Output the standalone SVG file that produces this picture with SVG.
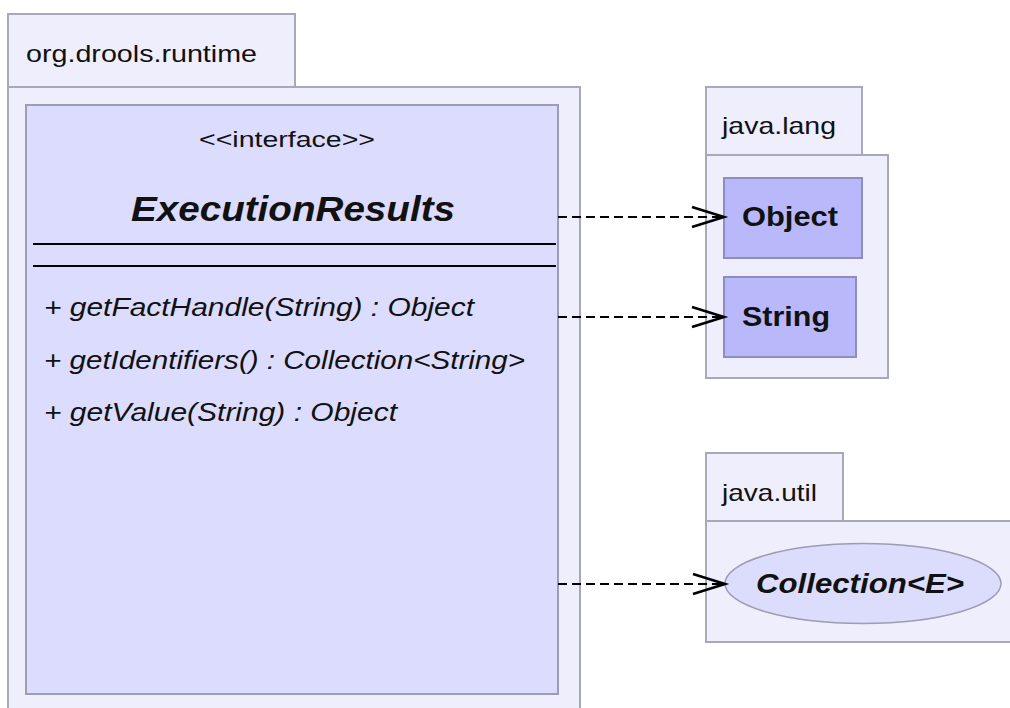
<svg xmlns="http://www.w3.org/2000/svg" width="1010" height="708" viewBox="0 0 1010 708">
<style>
.pkg{fill:#eeeefc;stroke:#a8a8b8;stroke-width:2}
.iface{fill:#dcdcfe;stroke:#9c9cb4;stroke-width:2}
.cls{fill:#b8b8fa;stroke:#8e8ebe;stroke-width:2}
.ell{fill:#dcdcfc;stroke:#9c9cb4;stroke-width:1.5}
.t{font-family:"Liberation Sans",Arial,sans-serif;fill:#111}
.plbl{font-size:24px}
.meth{font-size:25px;font-style:italic}
.dep{fill:none;stroke:#000;stroke-width:2.2;stroke-dasharray:9,5}
.head{fill:none;stroke:#000;stroke-width:2.6}
</style>
<rect width="1010" height="708" fill="#ffffff"/>
<g id="pkg-org-drools-runtime">
<rect class="pkg" x="8" y="14" width="287" height="73"/>
<rect class="pkg" x="8" y="87" width="572" height="640"/>
<text class="t plbl" x="26" y="62" textLength="231" lengthAdjust="spacingAndGlyphs">org.drools.runtime</text>
</g>
<g id="ExecutionResults">
<rect class="iface" x="26" y="105" width="532" height="589"/>
<text class="t" x="199" y="147" font-size="22" textLength="176" lengthAdjust="spacingAndGlyphs">&lt;&lt;interface&gt;&gt;</text>
<text class="t" x="131" y="221" font-size="35" font-weight="bold" font-style="italic" textLength="324" lengthAdjust="spacingAndGlyphs">ExecutionResults</text>
<line x1="33" y1="244" x2="556" y2="244" stroke="#000" stroke-width="2"/>
<line x1="33" y1="266" x2="556" y2="266" stroke="#000" stroke-width="2"/>
<text class="t meth" x="44" y="316" textLength="430" lengthAdjust="spacingAndGlyphs">+ getFactHandle(String) : Object</text>
<text class="t meth" x="44" y="369" textLength="481" lengthAdjust="spacingAndGlyphs">+ getIdentifiers() : Collection&lt;String&gt;</text>
<text class="t meth" x="44" y="421" textLength="353" lengthAdjust="spacingAndGlyphs">+ getValue(String) : Object</text>
</g>
<g id="pkg-java-lang">
<rect class="pkg" x="706" y="87" width="156" height="68"/>
<rect class="pkg" x="706" y="155" width="182" height="223"/>
<text class="t plbl" x="722" y="134" textLength="114" lengthAdjust="spacingAndGlyphs">java.lang</text>
</g>
<g id="Object">
<rect class="cls" x="724" y="178" width="138" height="80"/>
<text class="t" x="742" y="226" font-size="28" font-weight="bold" textLength="96" lengthAdjust="spacingAndGlyphs">Object</text>
</g>
<g id="String">
<rect class="cls" x="724" y="277" width="132" height="80"/>
<text class="t" x="742" y="326" font-size="28" font-weight="bold" textLength="88" lengthAdjust="spacingAndGlyphs">String</text>
</g>
<g id="pkg-java-util">
<rect class="pkg" x="706" y="453" width="137" height="68"/>
<rect class="pkg" x="706" y="521" width="320" height="121"/>
<text class="t plbl" x="722" y="501" textLength="95" lengthAdjust="spacingAndGlyphs">java.util</text>
</g>
<g id="Collection">
<ellipse class="ell" cx="863" cy="583.5" rx="138" ry="40"/>
<text class="t" x="756" y="593" font-size="28" font-weight="bold" font-style="italic" textLength="208" lengthAdjust="spacingAndGlyphs">Collection&lt;E&gt;</text>
</g>
<g id="connectors">
<line class="dep" x1="558" y1="217" x2="722" y2="217"/>
<polyline class="head" points="692,207 724,217 692,227"/>
<line class="dep" x1="558" y1="317" x2="722" y2="317"/>
<polyline class="head" points="692,307 724,317 692,327"/>
<line class="dep" x1="558" y1="584" x2="723" y2="584"/>
<polyline class="head" points="693,574 725,584 693,594"/>
</g>
</svg>
